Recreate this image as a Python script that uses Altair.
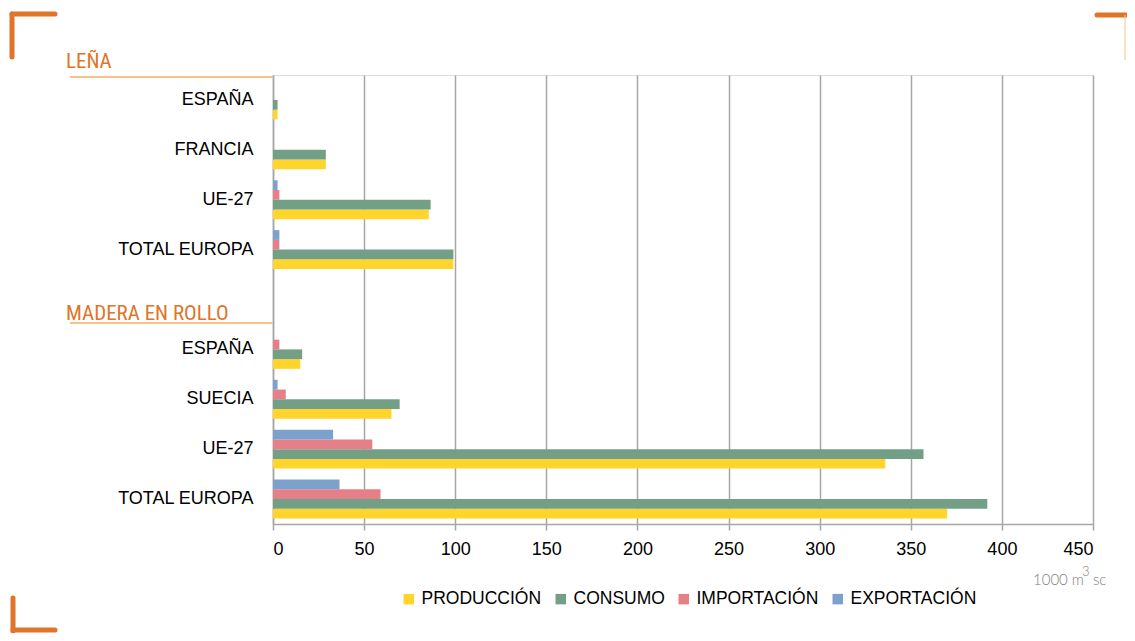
import altair as alt
import pandas as pd

# ---------------- data ----------------
grupos = ["LEÑA"] * 4 + ["MADERA EN ROLLO"] * 4
paises = ["ESPAÑA", "FRANCIA", "UE-27", "TOTAL EUROPA",
          "ESPAÑA", "SUECIA", "UE-27", "TOTAL EUROPA"]
produccion = [2.5, 29, 85.5, 99, 15, 65, 336, 370]
consumo = [2.5, 29, 86.5, 99, 16, 69.5, 357, 392]
importacion = [0, 0, 3.5, 3.5, 3.5, 7, 54.5, 59]
exportacion = [0, 0, 2.5, 3.5, 0, 2.5, 33, 36.5]

series = ["PRODUCCIÓN", "CONSUMO", "IMPORTACIÓN", "EXPORTACIÓN"]
colores = ["#FFD52B", "#739F87", "#E57F88", "#7BA1CC"]
orden_barras = ["EXPORTACIÓN", "IMPORTACIÓN", "CONSUMO", "PRODUCCIÓN"]
x_ticks = [0, 50, 100, 150, 200, 250, 300, 350, 400, 450]
unidad_partes = ["1000 m", "3", "sc"]

keys = [f"{g}|{p}" for g, p in zip(grupos, paises)]
domain_keys = keys[:4] + ["gap"] + keys[4:]

rows = []
for k, g, p, a, b, c, d in zip(keys, grupos, paises, produccion, consumo, importacion, exportacion):
    for s, v in zip(series, [a, b, c, d]):
        rows.append({"key": k, "grupo": g, "pais": p, "serie": s, "valor": v})
df = pd.DataFrame(rows)

GRAY = "#A6A6A6"
ORANGE = "#E07428"
LIGHT_ORANGE = "#F9C28C"
FONT = "Liberation Sans"

bars = alt.Chart(df).mark_bar().encode(
    x=alt.X("valor:Q",
            scale=alt.Scale(domain=[0, 450], nice=False, zero=True),
            axis=alt.Axis(values=x_ticks, title=None, grid=True, gridColor=GRAY,
                          gridWidth=1.5, domainColor=GRAY, domainWidth=1.5,
                          tickColor=GRAY, tickWidth=1.5, tickSize=6,
                          labelFont=FONT, labelFontSize=18, labelColor="#000000",
                          labelPadding=10)),
    y=alt.Y("key:N",
            scale=alt.Scale(domain=domain_keys, paddingInner=0.22, paddingOuter=0.11),
            axis=alt.Axis(title=None, ticks=False, grid=False, domain=True,
                          domainColor=GRAY, domainWidth=1.5,
                          labelFont=FONT, labelFontSize=18, labelColor="#000000",
                          labelPadding=20,
                          labelExpr="indexof(datum.value, '|') >= 0 ? split(datum.value, '|')[1] : ''")),
    yOffset=alt.YOffset("serie:N",
                        scale=alt.Scale(domain=orden_barras, paddingInner=0, paddingOuter=0)),
    color=alt.Color("serie:N",
                    scale=alt.Scale(domain=series, range=colores),
                    legend=alt.Legend(title=None, orient="none", legendX=127, legendY=515,
                                      direction="horizontal", symbolType="square",
                                      symbolSize=110, symbolStrokeWidth=0,
                                      labelFont=FONT, labelFontSize=17.5,
                                      labelColor="#000000", columnPadding=10,
                                      labelOffset=4)),
)

one = pd.DataFrame({"a": [0]})

def hrule(x1, x2, y, color, w, cap="butt"):
    return alt.Chart(one).mark_rule(color=color, strokeWidth=w, strokeCap=cap).encode(
        x=alt.value(x1), x2=alt.value(x2), y=alt.value(y))

def vrule(x, y1, y2, color, w, cap="butt"):
    return alt.Chart(one).mark_rule(color=color, strokeWidth=w, strokeCap=cap).encode(
        x=alt.value(x), y=alt.value(y1), y2=alt.value(y2))

head_font = "Roboto Condensed, DejaVu Sans Condensed, Liberation Sans"
headers = alt.Chart(pd.DataFrame({"t": ["LEÑA", "MADERA EN ROLLO"], "yy": [-7, 245]})).mark_text(
    align="left", baseline="alphabetic", font=head_font, fontSize=21, color=ORANGE
).encode(text="t:N", x=alt.value(-207), y=alt.Y("yy:Q", scale=None))

def unit_part(t, x, y, size):
    return alt.Chart(pd.DataFrame({"t": [t]})).mark_text(
        align="left", baseline="alphabetic", font="Lato", fontSize=size, fontWeight=300,
        color="#808080"
    ).encode(text="t:N", x=alt.value(x), y=alt.value(y))

unit_layers = [
    unit_part(unidad_partes[0], 760, 510, 15),
    unit_part(unidad_partes[1], 809, 501, 13),
    unit_part(unidad_partes[2], 820, 510, 15),
]

deco = [
    hrule(-203, 0, 2, LIGHT_ORANGE, 2),
    hrule(-203, 0, 248, LIGHT_ORANGE, 2),
    hrule(-261, -218, -61, ORANGE, 5, "round"),
    vrule(-261, -61, -18, ORANGE, 5, "round"),
    hrule(824, 860, -60, ORANGE, 5, "round"),
    vrule(852, -60, -15, LIGHT_ORANGE, 1),
    vrule(-260, 523, 556, ORANGE, 5, "round"),
    hrule(-260, -218, 555, ORANGE, 5, "round"),
]

chart = alt.layer(bars, headers, *unit_layers, *deco).properties(
    width=820, height=449,
    autosize=alt.AutoSizeParams(type="none"),
    padding={"left": 265, "top": 67, "right": 34, "bottom": 109},
).configure_view(stroke=None).configure(background="#FFFFFF")

chart.save("out.html", embed_options={"renderer": "svg", "actions": False})
